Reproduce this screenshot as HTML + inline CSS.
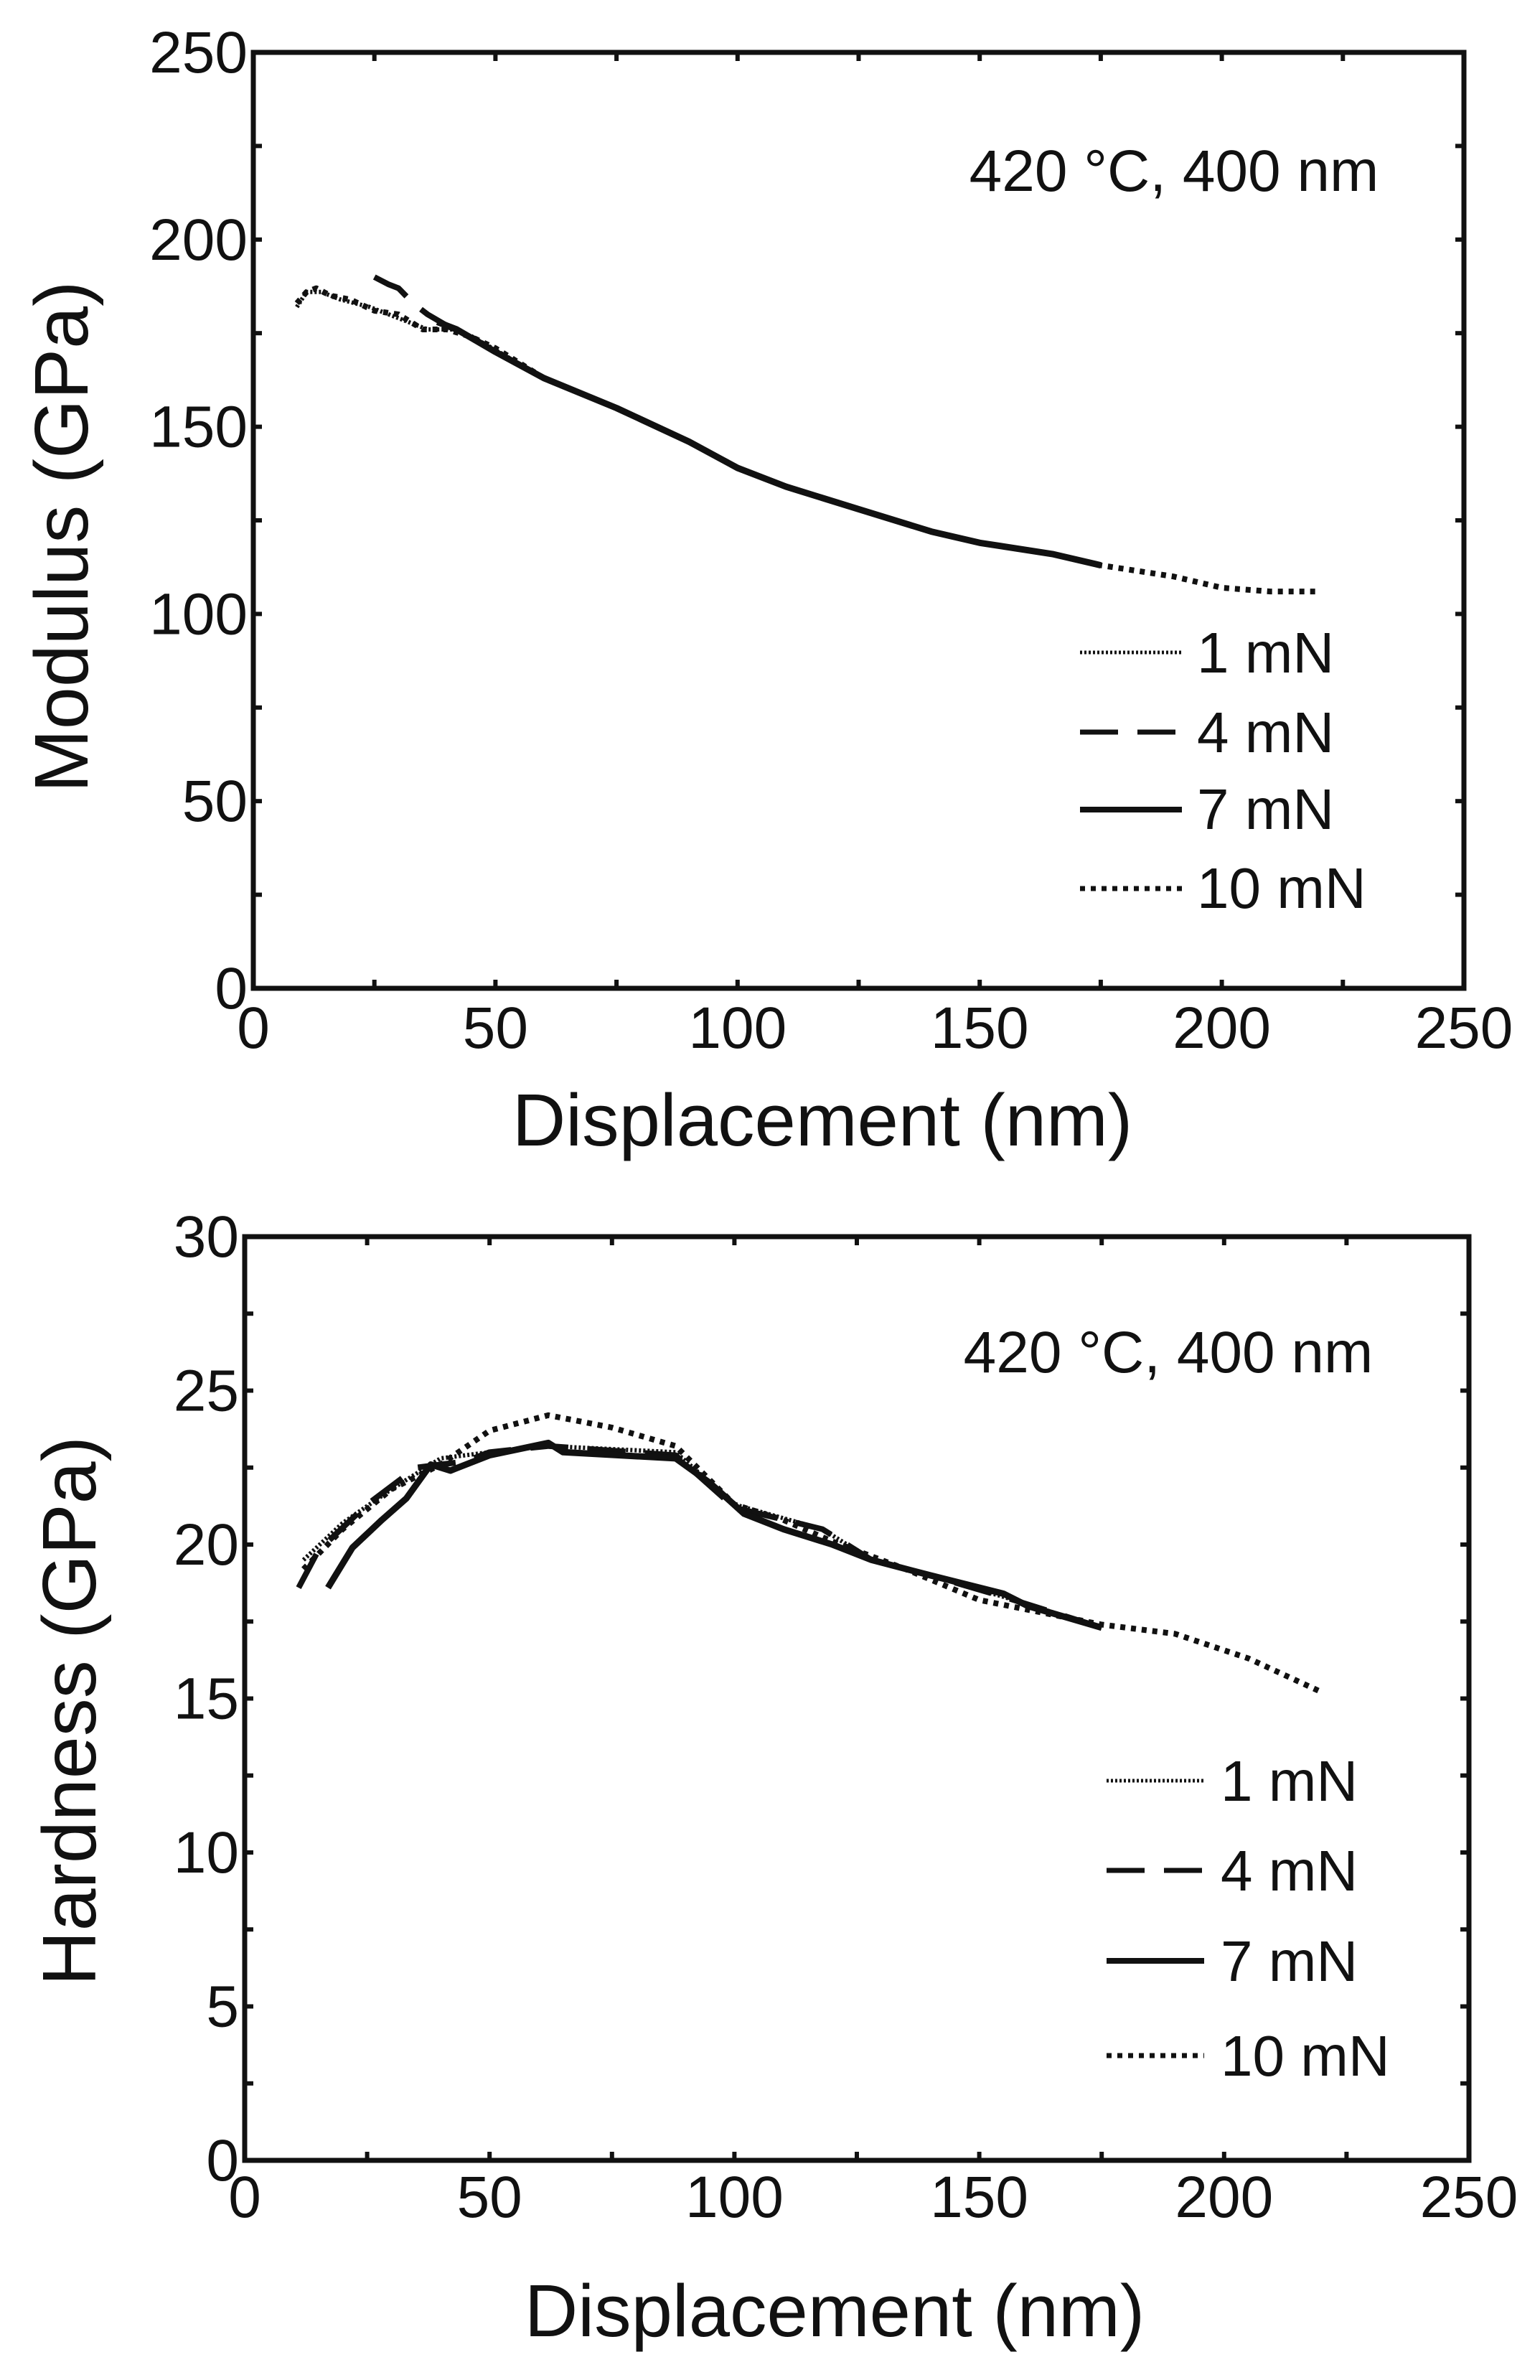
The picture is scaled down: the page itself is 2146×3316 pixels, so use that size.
<!DOCTYPE html>
<html><head><meta charset="utf-8"><style>
html,body{margin:0;padding:0;background:#fff;}
svg{display:block;}
text{font-family:"Liberation Sans",Arial,sans-serif;fill:#111;}
</style></head><body>
<svg id="s" width="2146" height="3316" viewBox="0 0 2146 3316" xmlns="http://www.w3.org/2000/svg">
<rect width="2146" height="3316" fill="#fff"/>
<g id="top"></g>
<text x="1636" y="266" font-size="82" text-anchor="middle">420 °C, 400 nm</text>
<text x="1668" y="937" font-size="80">1 mN</text>
<text x="1668" y="1048" font-size="80">4 mN</text>
<text x="1668" y="1155" font-size="80">7 mN</text>
<text x="1668" y="1265" font-size="80">10 mN</text>
<text x="1146" y="1596" font-size="103" text-anchor="middle">Displacement (nm)</text>
<text transform="translate(94,748) rotate(-90)" font-size="106" text-anchor="middle" dominant-baseline="middle">Modulus (GPa)</text>
<g id="bot"></g>
<text x="1628" y="1912" font-size="82" text-anchor="middle">420 °C, 400 nm</text>
<text x="1701" y="2509" font-size="80">1 mN</text>
<text x="1701" y="2634" font-size="80">4 mN</text>
<text x="1701" y="2760" font-size="80">7 mN</text>
<text x="1701" y="2892" font-size="80">10 mN</text>
<text x="1163" y="3255" font-size="103" text-anchor="middle">Displacement (nm)</text>
<text transform="translate(105,2384) rotate(-90)" font-size="106" text-anchor="middle" dominant-baseline="middle">Hardness (GPa)</text>
</svg>
<script>
var NS="http://www.w3.org/2000/svg";
function el(p,t,a){var e=document.createElementNS(NS,t);for(var k in a)e.setAttribute(k,a[k]);p.appendChild(e);return e;}
function plot(gid,L,T,R,B,ymax,ystep,yminor,series,legY,legX0,legX1,xLabY){
 var g=document.getElementById(gid);
 var X=function(d){return L+d*(R-L)/250;},Y=function(v){return B-v*(B-T)/ymax;};
 for(var d=25;d<250;d+=25){
  el(g,'line',{x1:X(d),x2:X(d),y1:B,y2:B-12,stroke:'#111','stroke-width':6});
  el(g,'line',{x1:X(d),x2:X(d),y1:T,y2:T+12,stroke:'#111','stroke-width':6});
 }
 for(var v=yminor;v<ymax;v+=yminor){
  el(g,'line',{x1:L,x2:L+12,y1:Y(v),y2:Y(v),stroke:'#111','stroke-width':6});
  el(g,'line',{x1:R,x2:R-12,y1:Y(v),y2:Y(v),stroke:'#111','stroke-width':6});
 }
 for(var d=0;d<=250;d+=50){var t=el(g,'text',{x:X(d),y:xLabY,'font-size':82,'text-anchor':'middle'});t.textContent=d;}
 for(var v=0;v<=ymax;v+=ystep){var t=el(g,'text',{x:L-8,y:Y(v)+28,'font-size':82,'text-anchor':'end'});t.textContent=v;}
 var st=[{sw:5,da:'3 3'},{sw:7,da:'53 27'},{sw:8,da:''},{sw:7,da:'7 8'}];
 series.forEach(function(s,i){
  var dstr=s.map(function(p,j){return (j?'L':'M')+X(p[0]).toFixed(1)+','+Y(p[1]).toFixed(1);}).join('');
  var a={d:dstr,fill:'none',stroke:'#111','stroke-width':st[i].sw+1,'stroke-linejoin':'round'};
  if(st[i].da)a['stroke-dasharray']=st[i].da;
  el(g,'path',a);
  var la={x1:legX0,x2:legX1,y1:legY[i],y2:legY[i],stroke:'#111','stroke-width':st[i].sw};
  if(st[i].da)la['stroke-dasharray']=st[i].da;
  el(g,'line',la);
 });
 el(g,'rect',{x:L,y:T,width:R-L,height:B-T,fill:'none',stroke:'#111','stroke-width':7});
}
var m10=[[9,183],[11,186],[13,187],[16,185],[20,184],[25,181],[30,180],[35,176],[40,176],[45,174],[50,171],[60,163],[75,155],[90,146],[100,139],[110,134],[125,128],[140,122],[150,119],[165,116],[175,113],[190,110],[200,107],[210,106],[220,106]];
var m1=[[9,182],[11,186],[14,186],[18,184],[24,182],[30,179],[36,176],[42,176],[48,172],[60,163],[75,155],[90,146],[100,139],[110,134],[125,128],[140,122],[150,119],[165,116],[175,113]];
var m4=[[25,190],[28,188],[30,187],[33,183],[36,180],[40,177],[45,174],[50,170],[60,163],[75,155],[90,146],[100,139],[110,134],[125,128],[140,122],[150,119],[165,116],[175,113]];
var m7=[[38,178],[42,176],[46,173],[50,170],[60,163],[75,155],[90,146],[100,139],[110,134],[125,128],[140,122],[150,119],[165,116],[175,113]];
plot('top',353,73,2040,1377,250,50,25,[m1,m4,m7,m10],[909,1020,1128,1238],1505,1647,1460);
var h10=[[12,19.2],[20,20.5],[30,21.8],[40,22.6],[50,23.7],[62,24.2],[75,23.8],[88,23.2],[100,21.3],[110,20.8],[120,20.1],[135,19.2],[150,18.2],[175,17.4],[190,17.1],[205,16.3],[220,15.2]];
var h1=[[12,19.5],[20,20.7],[30,21.8],[40,22.8],[50,23.0],[62,23.2],[88,23.0],[100,21.3],[118,20.5],[128,19.5],[140,19.0],[155,18.3],[175,17.3]];
var h4=[[11,18.6],[15,19.8],[25,21.3],[35,22.5],[45,22.7],[50,23.0],[62,23.2],[88,22.9],[100,21.2],[118,20.5],[128,19.5],[140,19.0],[155,18.3],[175,17.3]];
var h7=[[17,18.6],[22,19.9],[28,20.8],[33,21.5],[38,22.6],[42,22.4],[50,22.9],[62,23.3],[65,23.0],[88,22.8],[95,22.0],[102,21.0],[110,20.5],[120,20.0],[128,19.5],[140,19.0],[155,18.4],[160,18.0],[175,17.3]];
plot('bot',341,1723,2047,3010,30,5,2.5,[h1,h4,h7,h10],[2481,2606,2732,2864],1542,1678,3089);
</script>
</body></html>
